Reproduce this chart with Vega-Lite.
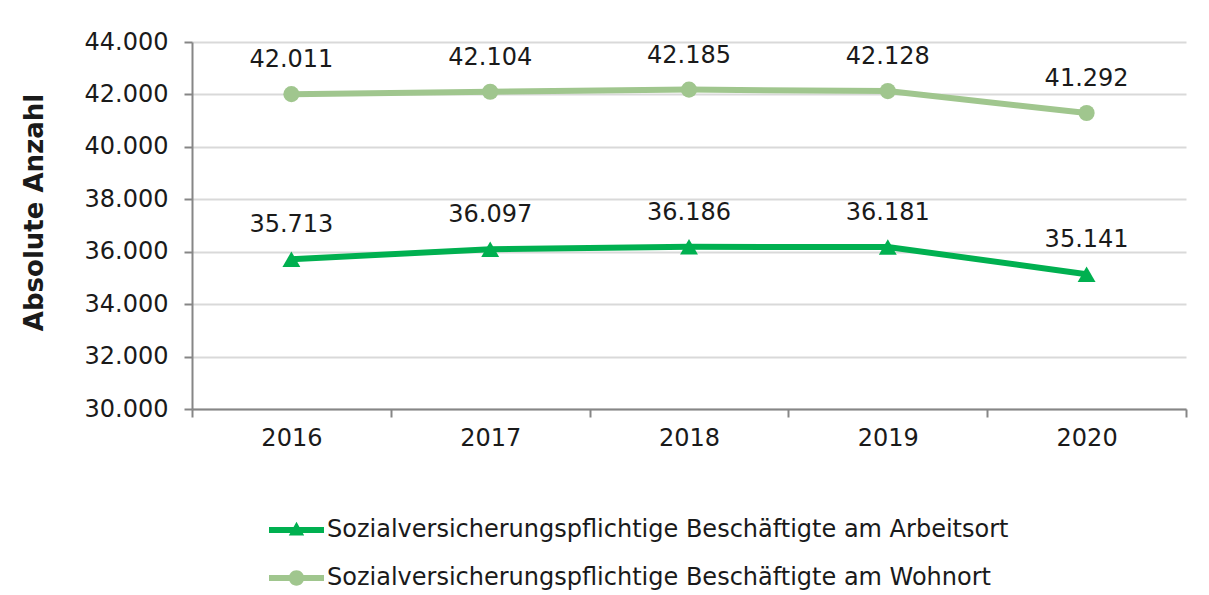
{
  "$schema": "https://vega.github.io/schema/vega-lite/v6.json",
  "width": 994,
  "height": 367,
  "autosize": "none",
  "padding": {"left": 192, "top": 42, "right": 23, "bottom": 186},
  "background": "white",
  "config": {
    "font": "DejaVu Sans",
    "view": {"stroke": null},
    "locale": {"number": {"decimal": ",", "thousands": ".", "grouping": [3], "currency": ["", " €"]}}
  },
  "data": {
    "values": [
      {"Jahr": "2016", "Reihe": "Sozialversicherungspflichtige Beschäftigte am Arbeitsort", "Wert": 35713},
      {"Jahr": "2017", "Reihe": "Sozialversicherungspflichtige Beschäftigte am Arbeitsort", "Wert": 36097},
      {"Jahr": "2018", "Reihe": "Sozialversicherungspflichtige Beschäftigte am Arbeitsort", "Wert": 36186},
      {"Jahr": "2019", "Reihe": "Sozialversicherungspflichtige Beschäftigte am Arbeitsort", "Wert": 36181},
      {"Jahr": "2020", "Reihe": "Sozialversicherungspflichtige Beschäftigte am Arbeitsort", "Wert": 35141},
      {"Jahr": "2016", "Reihe": "Sozialversicherungspflichtige Beschäftigte am Wohnort", "Wert": 42011},
      {"Jahr": "2017", "Reihe": "Sozialversicherungspflichtige Beschäftigte am Wohnort", "Wert": 42104},
      {"Jahr": "2018", "Reihe": "Sozialversicherungspflichtige Beschäftigte am Wohnort", "Wert": 42185},
      {"Jahr": "2019", "Reihe": "Sozialversicherungspflichtige Beschäftigte am Wohnort", "Wert": 42128},
      {"Jahr": "2020", "Reihe": "Sozialversicherungspflichtige Beschäftigte am Wohnort", "Wert": 41292}
    ]
  },
  "encoding": {
    "x": {
      "field": "Jahr",
      "type": "ordinal",
      "scale": {"type": "band", "paddingInner": 0, "paddingOuter": 0},
      "axis": {
        "title": null,
        "labelAngle": 0,
        "labelFontSize": 24,
        "labelColor": "#1a1a1a",
        "labelPadding": 9,
        "tickBand": "extent",
        "tickSize": 8,
        "tickColor": "#868686",
        "tickWidth": 2,
        "domainColor": "#868686",
        "domainWidth": 2,
        "grid": false
      }
    },
    "y": {
      "field": "Wert",
      "type": "quantitative",
      "scale": {"domain": [30000, 44000], "nice": false, "zero": false},
      "axis": {
        "title": "Absolute Anzahl",
        "titleFontSize": 26,
        "titleFontWeight": "bold",
        "titleColor": "#1a1a1a",
        "titlePadding": 37,
        "titleY": 170,
        "values": [30000, 32000, 34000, 36000, 38000, 40000, 42000, 44000],
        "format": ",d",
        "labelFontSize": 24,
        "labelColor": "#1a1a1a",
        "labelPadding": 16,
        "tickSize": 8,
        "tickColor": "#868686",
        "tickWidth": 2,
        "domainColor": "#868686",
        "domainWidth": 2,
        "gridColor": "#d9d9d9",
        "gridWidth": 2
      }
    }
  },
  "layer": [
    {
      "mark": {"type": "point", "filled": true, "opacity": 0, "size": 484},
      "encoding": {
        "color": {
          "field": "Reihe",
          "type": "nominal",
          "scale": {
            "domain": ["Sozialversicherungspflichtige Beschäftigte am Arbeitsort", "Sozialversicherungspflichtige Beschäftigte am Wohnort"],
            "range": ["#00B050", "#A0C68E"]
          },
          "legend": {
            "title": null,
            "orient": "none",
            "legendX": 76,
            "legendY": 476,
            "labelFontSize": 24,
            "labelColor": "#1a1a1a",
            "labelLimit": 1000,
            "symbolSize": 484,
            "symbolOpacity": 1,
            "symbolStrokeWidth": 0,
            "labelOffset": 35,
            "rowPadding": 24
          }
        },
        "shape": {
          "field": "Reihe",
          "type": "nominal",
          "scale": {
            "domain": ["Sozialversicherungspflichtige Beschäftigte am Arbeitsort", "Sozialversicherungspflichtige Beschäftigte am Wohnort"],
            "range": [
              "M-1,-0.28H4V0.28H-1Z M0.8,0.5L1.5,-0.75L2.2,0.5Z",
              "M-1,-0.28H4V0.28H-1Z M0.8,0A0.7,0.7,0,1,1,2.2,0A0.7,0.7,0,1,1,0.8,0Z"
            ]
          },
          "legend": {
            "title": null,
            "orient": "none",
            "legendX": 76,
            "legendY": 476,
            "labelFontSize": 24,
            "labelColor": "#1a1a1a",
            "labelLimit": 1000,
            "symbolSize": 484,
            "symbolOpacity": 1,
            "symbolStrokeWidth": 0,
            "labelOffset": 35,
            "rowPadding": 24
          }
        }
      }
    },
    {
      "mark": {"type": "line", "strokeWidth": 6},
      "encoding": {"color": {"field": "Reihe", "type": "nominal", "legend": null}}
    },
    {
      "transform": [{"filter": "datum.Reihe == 'Sozialversicherungspflichtige Beschäftigte am Arbeitsort'"}],
      "mark": {"type": "point", "filled": true, "opacity": 1, "size": 320, "shape": "triangle-up"},
      "encoding": {"color": {"field": "Reihe", "type": "nominal", "legend": null}}
    },
    {
      "transform": [{"filter": "datum.Reihe == 'Sozialversicherungspflichtige Beschäftigte am Wohnort'"}],
      "mark": {"type": "point", "filled": true, "opacity": 1, "size": 260, "shape": "circle"},
      "encoding": {"color": {"field": "Reihe", "type": "nominal", "legend": null}}
    },
    {
      "mark": {"type": "text", "dy": -34, "fontSize": 24, "color": "#1a1a1a"},
      "encoding": {
        "text": {"field": "Wert", "type": "quantitative", "format": ",d"}
      }
    }
  ]
}
